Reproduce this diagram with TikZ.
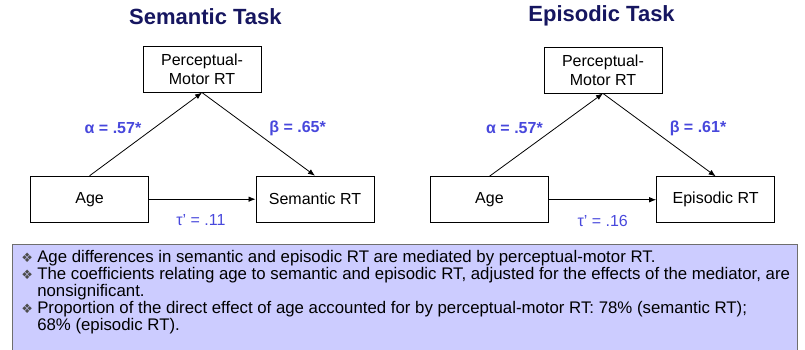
\documentclass[tikz,border=0pt]{standalone}
\usepackage{fontspec}
\setmainfont{Liberation Sans}
\newfontfamily\bulletfont{DejaVu Sans}
\usetikzlibrary{positioning, arrows.meta}

\definecolor{titleNavy}{RGB}{22,22,96}
\definecolor{coefBlue}{RGB}{72,72,220}
\definecolor{noteFill}{RGB}{204,204,255}
\definecolor{noteLine}{RGB}{110,110,110}

\newcommand{\nb}{\makebox[16pt][l]{\bulletfont\fontsize{13}{13}\selectfont\color{black!70}❖}}
\newcommand{\nbskip}{\hspace*{16pt}}

\tikzset{
  var/.style={draw, rectangle, line width=0.8pt, text centered, align=center, inner sep=0pt,
    minimum width=4.15cm, minimum height=1.62cm, font=\fontsize{16}{19}\selectfont},
  taskTitle/.style={font=\bfseries\fontsize{22}{24}\selectfont, text=titleNavy},
  coef/.style={font=\bfseries\fontsize{16}{19}\selectfont, text=coefBlue},
  direct/.style={font=\fontsize{16}{19}\selectfont, text=coefBlue},
  path/.style={-{Latex[length=7pt,width=5.5pt]}, line width=0.8pt}
}

\begin{document}
\begin{tikzpicture}
		\useasboundingbox (0,0) rectangle (28.29,12.27);
		
		% semantic task
		\node (semTitle) at (7.22,11.70) [taskTitle]{Semantic Task};
		\node (pmSem) at (7.10,9.84) [var]{Perceptual-\\Motor RT};
		\node (ageSem) at (3.15,5.27) [var]{Age};
		\node (rtSem) at (11.07,5.27) [var]{Semantic RT};
		\node (alphaSem) at (3.97,7.77) [coef]{α = .57*};
		\node (betaSem) at (10.46,7.77) [coef]{β = .65*};
		\node (tauSem) at (7.06,4.53) [direct]{τ’ = .11};
		
		% episodic task
		\node (epiTitle) at (21.14,11.70) [taskTitle]{Episodic Task};
		\node (pmEpi) at (21.19,9.81) [var]{Perceptual-\\Motor RT};
		\node (ageEpi) at (17.20,5.25) [var]{Age};
		\node (rtEpi) at (25.15,5.25) [var]{Episodic RT};
		\node (alphaEpi) at (18.08,7.77) [coef]{α = .57*};
		\node (betaEpi) at (24.53,7.77) [coef]{β = .61*};
		\node (tauEpi) at (21.18,4.50) [direct]{τ’ = .16};
		
		%Links
		\draw[path] (ageSem.north) -- (pmSem.south);
		\draw[path] (pmSem.south) -- (rtSem.north);
		\draw[path] (ageSem.east) -- (rtSem.west);
		\draw[path] (ageEpi.north) -- (pmEpi.south);
		\draw[path] (pmEpi.south) -- (rtEpi.north);
		\draw[path] (ageEpi.east) -- (rtEpi.west);
		
		% summary box
		\node (noteBox) at (14.215,1.79) [draw=noteLine, fill=noteFill, rectangle, line width=0.8pt,
		minimum width=27.59cm, minimum height=3.78cm]{};
		\node (notes) at (0.74,3.47) [anchor=north west, align=left, inner sep=0pt,
		font=\fontsize{16.8}{17}\selectfont]{%
		\nb Age differences in semantic and episodic RT are mediated by perceptual-motor RT.\\
		\nb The coefficients relating age to semantic and episodic RT, adjusted for the effects of the mediator, are\\
		\nbskip nonsignificant.\\
		\nb Proportion of the direct effect of age accounted for by perceptual-motor RT: 78\% (semantic RT);\\
		\nbskip 68\% (episodic RT).};
		
\end{tikzpicture}
\end{document}
